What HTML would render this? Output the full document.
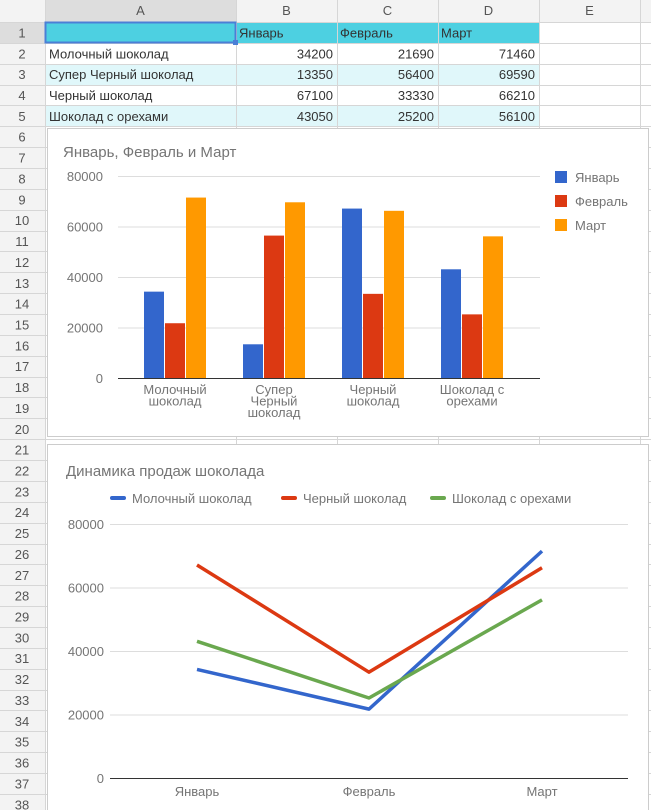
<!DOCTYPE html>
<html><head><meta charset="utf-8"><style>
body{margin:0;width:651px;height:810px;overflow:hidden;background:#fff;font-family:"Liberation Sans",Arial,sans-serif;position:relative}
.a{position:absolute}
svg text{font-family:"Liberation Sans",Arial,sans-serif}
</style></head><body>
<svg class="a" style="left:0;top:0" width="651" height="810">
<rect x="0" y="0" width="651" height="22" fill="#f3f3f3"/>
<rect x="0" y="0" width="45" height="810" fill="#f3f3f3"/>
<rect x="45" y="0" width="191" height="22" fill="#ddd"/>
<rect x="0" y="22" width="45" height="21" fill="#ddd"/>
<rect x="45" y="22" width="494" height="21" fill="#4dd0e1"/>
<rect x="45" y="64" width="494" height="21" fill="#e0f7fa"/>
<rect x="45" y="106" width="494" height="21" fill="#e0f7fa"/>
<g id="grid" stroke="#d6d6d6" stroke-width="1"></g>
<g id="gtext" font-size="13" fill="#333"></g>
</svg>
<svg class="a" style="left:0;top:0" width="651" height="810" id="charts"></svg>
<script>
const NS='http://www.w3.org/2000/svg';
function mk(p,t,at,txt){const e=document.createElementNS(NS,t);for(const k in at)e.setAttribute(k,at[k]);if(txt!==undefined)e.textContent=txt;p.appendChild(e);return e;}
const grid=document.getElementById('grid'),gt=document.getElementById('gtext');
const cols=[45,236,337,438,539,640];const colNames=['A','B','C','D','E'];
const rowH=20.86,top0=22;
for(const x of cols)mk(grid,'line',{x1:x+.5,y1:0,x2:x+.5,y2:810});
for(let i=0;i<=38;i++){const y=Math.round(top0+i*rowH)+.5;mk(grid,'line',{x1:0,y1:y,x2:651,y2:y});}
mk(grid,'line',{x1:0,y1:22.5,x2:651,y2:22.5});
colNames.forEach((n,i)=>{const t=mk(gt,'text',{x:(cols[i]+cols[i+1])/2,y:15,'text-anchor':'middle',fill:'#555'},n);});
for(let i=1;i<=38;i++){const t=mk(gt,'text',{x:22,y:top0+(i-0.5)*rowH+5,'text-anchor':'middle',fill:'#555'},i);}
const months=['Январь','Февраль','Март'];
const products=['Молочный шоколад','Супер Черный шоколад','Черный шоколад','Шоколад с орехами'];
const jan=[34200,13350,67100,43050],feb=[21690,56400,33330,25200],mar=[71460,69590,66210,56100];
const series=[jan,feb,mar];
months.forEach((m,i)=>{const t=mk(gt,'text',{x:cols[i+1]+3,y:top0+0.5*rowH+5},m);});
products.forEach((p,r)=>{const y=top0+(r+1.5)*rowH+5;const t=mk(gt,'text',{x:49,y:y},p);
series.forEach((s,c)=>{const v=mk(gt,'text',{x:cols[c+2]-4,y:y,'text-anchor':'end'},s[r]);});});
mk(gt,'rect',{x:45.5,y:22.5,width:190,height:20,fill:'none',stroke:'#4a7fd6','stroke-width':2});
mk(gt,'rect',{x:233,y:40,width:5,height:5,fill:'#4a7fd6'});

const ch=document.getElementById('charts');
const colors=['#3366cc','#dc3912','#ff9900'];
// chart 1
const c1=mk(ch,'g',{});
mk(c1,'rect',{x:47.5,y:128.5,width:601,height:308,fill:'#fff',stroke:'#ccc'});
mk(c1,'text',{x:63,y:157,'font-size':15,fill:'#757575'},'Январь, Февраль и Март');
const yTicks=[0,20000,40000,60000,80000];
const y1=v=>378-v/80000*202;
yTicks.forEach(v=>{mk(c1,'line',{x1:118,x2:540,y1:y1(v)+.5,y2:y1(v)+.5,stroke:v?'#ddd':'#333'});mk(c1,'text',{x:103,y:y1(v)+5,'text-anchor':'end','font-size':13,fill:'#757575'},v);});
const labels1=[['Молочный','шоколад'],['Супер','Черный','шоколад'],['Черный','шоколад'],['Шоколад с','орехами']];
products.forEach((p,i)=>{const cx=175+i*99;
series.forEach((s,k)=>{const b=mk(c1,'rect',{x:cx-31+k*21,y:y1(s[i]),width:20,height:378-y1(s[i]),fill:colors[k]});});
labels1[i].forEach((l,j)=>mk(c1,'text',{x:cx,y:394+j*11.5,'text-anchor':'middle','font-size':13,fill:'#757575'},l));});
months.forEach((m,k)=>{const g=mk(c1,'g',{});
mk(g,'rect',{x:555,y:171+k*24,width:12,height:12,fill:colors[k]});mk(g,'text',{x:575,y:182+k*24,'font-size':13,fill:'#757575'},m);});
// chart 2
const c2=mk(ch,'g',{});
mk(c2,'rect',{x:47.5,y:444.5,width:601,height:370,fill:'#fff',stroke:'#ccc'});
mk(c2,'text',{x:66,y:476,'font-size':15,fill:'#757575'},'Динамика продаж шоколада');
const y2=v=>778-v/80000*254;
yTicks.forEach(v=>{mk(c2,'line',{x1:110,x2:628,y1:y2(v)+.5,y2:y2(v)+.5,stroke:v?'#ddd':'#333'});mk(c2,'text',{x:104,y:y2(v)+5,'text-anchor':'end','font-size':13,fill:'#757575'},v);});
const xs=[197,369,542];
months.forEach((m,i)=>mk(c2,'text',{x:xs[i],y:796,'text-anchor':'middle','font-size':13,fill:'#757575'},m));
const lineIdx=[0,2,3],lc=['#3366cc','#dc3912','#6aa84f'];
const lx=[112,283,432];
lineIdx.forEach((r,k)=>{const pts=series.map((s,i)=>xs[i]+','+y2(s[r])).join(' ');
const l=mk(c2,'polyline',{points:pts,fill:'none',stroke:lc[k],'stroke-width':3.5,'stroke-linejoin':'round'});
const g=mk(c2,'g',{});
mk(g,'line',{x1:lx[k],x2:lx[k]+12,y1:498,y2:498,stroke:lc[k],'stroke-width':4,'stroke-linecap':'round'});
mk(g,'text',{x:lx[k]+20,y:503,'font-size':13,fill:'#757575'},products[r]);});
</script>
</body></html>
